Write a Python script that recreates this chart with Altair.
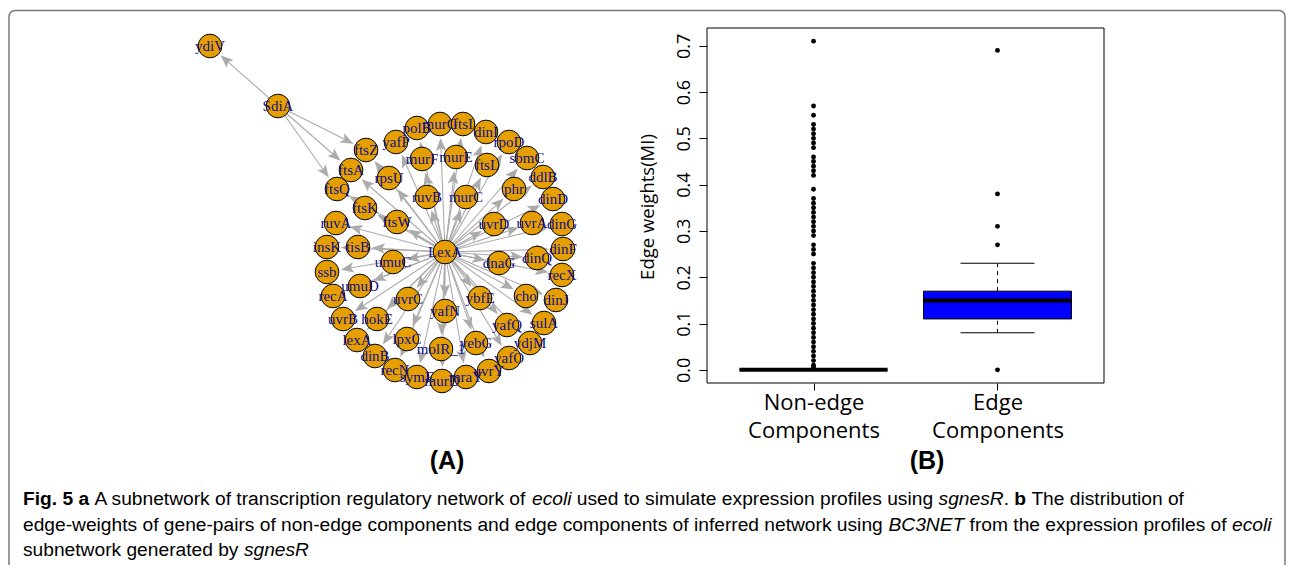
import math
import altair as alt
import pandas as pd

# ---------------- Panel A: network (layout positions) ----------------
node_names = ["LexA", "SdiA", "ydiV",
              "ftsQ", "ftsA", "ftsZ", "yafP", "polB", "murG", "ftsI", "dinI", "rpoD", "sbmC",
              "ddlB", "dinD", "dinG", "dinF", "recX", "dinJ", "sulA", "ydjM", "yafO", "uvrY",
              "mraY", "murD", "symE", "recN", "dinB", "lexA", "uvrB", "recA", "ssb", "insK", "ruvA",
              "rpsU", "murF", "murE", "ftsL", "phr", "ruvB", "murC", "ftsK", "ftsW", "uvrD", "uvrA",
              "tisB", "dinQ", "umuC", "dnaG", "umuD", "cho", "uvrC", "ybfE", "yafN", "hokE", "yafQ",
              "lpxC", "yebG", "molR_1"]
node_x = [445, 278, 210,
          337, 351, 366, 396, 417, 440, 463, 486, 509, 527,
          543, 553, 562, 563, 562, 556, 544, 530, 509, 489,
          466, 442, 417, 395, 375, 357, 343, 333, 327, 327, 336,
          389, 422, 456, 487, 514, 427, 466, 365, 397, 494, 532,
          358, 537, 393, 499, 360, 526, 408, 480, 445, 377, 507,
          407, 476, 441]
node_y = [252, 106, 46,
          189, 170, 150, 142, 128, 124, 124, 132, 142, 158,
          177, 199, 224, 249, 275, 300, 323, 343, 358, 371,
          377, 381, 377, 370, 356, 340, 319, 296, 272, 247, 223,
          178, 159, 157, 165, 189, 197, 197, 208, 222, 224, 223,
          247, 258, 262, 263, 286, 296, 299, 298, 311, 319, 325,
          339, 343, 349]

edge_from = ["SdiA", "SdiA", "SdiA", "SdiA"] + ["LexA"] * (len(node_names) - 3)
edge_to = ["ydiV", "ftsZ", "ftsA", "ftsQ"] + node_names[3:]

# ---------------- Panel B: boxplot of edge weights ----------------
groups = ["Non-edge Components", "Edge Components"]
box_q1 = [0.0, 0.11]
box_median = [0.0, 0.15]
box_q3 = [0.0, 0.17]
whisker_low = [0.0, 0.08]
whisker_high = [0.0, 0.23]
nonedge_outliers = [0.005, 0.01, 0.02, 0.03, 0.04, 0.05, 0.06, 0.07, 0.08, 0.09, 0.10, 0.11, 0.12,
                    0.13, 0.14, 0.15, 0.16, 0.17, 0.18, 0.19, 0.20, 0.21, 0.22, 0.23,
                    0.25, 0.26, 0.27,
                    0.29, 0.30, 0.31, 0.32, 0.33, 0.34, 0.35, 0.36, 0.37,
                    0.39,
                    0.42, 0.43, 0.44, 0.45, 0.46,
                    0.48, 0.49, 0.50, 0.51, 0.52, 0.53,
                    0.55, 0.57, 0.71]
edge_outliers = [0.0, 0.27, 0.31, 0.38, 0.69]
y_ticks = [0.0, 0.1, 0.2, 0.3, 0.4, 0.5, 0.6, 0.7]

# caption: (text, weight, style) runs per line
caption_lines = [
    [("Fig. 5 a", "bold", "normal"),
     (" A subnetwork of transcription regulatory network of ", "normal", "normal"),
     ("ecoli", "normal", "italic"),
     (" used to simulate expression profiles using ", "normal", "normal"),
     ("sgnesR", "normal", "italic"),
     (". ", "normal", "normal"),
     ("b", "bold", "normal"),
     (" The distribution of", "normal", "normal")],
    [("edge-weights of gene-pairs of non-edge components and edge components of inferred network using ",
      "normal", "normal"),
     ("BC3NET", "normal", "italic"),
     (" from the expression profiles of ", "normal", "normal"),
     ("ecoli", "normal", "italic")],
    [("subnetwork generated by ", "normal", "normal"),
     ("sgnesR", "normal", "italic")],
]

# ---------------- derived tables ----------------
pos = {n: (x, y) for n, x, y in zip(node_names, node_x, node_y)}
R = 13.5
HEAD = 6.5
rows = []
for s, t in zip(edge_from, edge_to):
    sx, sy = pos[s]
    tx, ty = pos[t]
    dx, dy = tx - sx, ty - sy
    L = math.hypot(dx, dy)
    ux, uy = dx / L, dy / L
    cx, cy = tx - ux * (R + 0.5 + HEAD), ty - uy * (R + 0.5 + HEAD)
    ang = math.degrees(math.atan2(ux, -uy)) % 360
    rows.append({"x1": sx, "y1": sy, "x2": cx, "y2": cy, "ax": cx, "ay": cy, "ang": ang})
edf = pd.DataFrame(rows)
ndf = pd.DataFrame({"name": node_names, "x": node_x, "y": node_y})

NX = alt.Scale(domain=[8, 1286], range=[0, 1278], nice=False, zero=False)
NY = alt.Scale(domain=[8, 565], range=[0, 557], nice=False, zero=False)
EDGE_COL = "#ABABAB"
ARROW = "M0,-1L0.8,1L0,0.55L-0.8,1Z"

edges = alt.Chart(edf).mark_rule(color=EDGE_COL, strokeWidth=1.1).encode(
    x=alt.X("x1:Q", scale=NX, axis=None), y=alt.Y("y1:Q", scale=NY, axis=None),
    x2="x2:Q", y2="y2:Q")
arrows = alt.Chart(edf).mark_point(shape=ARROW, filled=True, color=EDGE_COL, size=169,
                                   opacity=1, strokeWidth=0).encode(
    x=alt.X("ax:Q", scale=NX, axis=None), y=alt.Y("ay:Q", scale=NY, axis=None),
    angle=alt.Angle("ang:Q", scale=None))
nodes = alt.Chart(ndf).mark_circle(size=560, color="#E69F00", stroke="black", strokeWidth=1,
                                   opacity=1).encode(
    x=alt.X("x:Q", scale=NX, axis=None), y=alt.Y("y:Q", scale=NY, axis=None))
labels = alt.Chart(ndf).mark_text(font="Liberation Serif", fontSize=15, color="#10108A").encode(
    x=alt.X("x:Q", scale=NX, axis=None), y=alt.Y("y:Q", scale=NY, axis=None), text="name:N")
net = alt.layer(edges, arrows, nodes, labels)

stats = pd.DataFrame({"g": groups, "q1": box_q1, "med": box_median, "q3": box_q3,
                      "lo": whisker_low, "hi": whisker_high})
edge_stats = stats[stats["g"] == groups[1]]
pts = pd.DataFrame({"g": [groups[0]] * len(nonedge_outliers) + [groups[1]] * len(edge_outliers),
                    "v": nonedge_outliers + edge_outliers})

BX = alt.Scale(type="point", domain=groups, range=[699, 1096], padding=0.579)
BY = alt.Scale(domain=[-0.0284, 0.7384], range=[375, 20], nice=False, zero=False)
xaxis = alt.Axis(title=None, labelExpr="split(datum.label, ' ')", labelFont="Open Sans",
                 labelFontSize=22, labelLineHeight=28, labelColor="black", tickColor="black",
                 tickSize=7, domain=False, offset=-182, labelPadding=2, grid=False, labelAngle=0)
yaxis = alt.Axis(title=None, values=y_ticks, format=".1f", labelAngle=270, labelAlign="center",
                 labelBaseline="bottom", labelFont="Open Sans", labelFontSize=18,
                 labelColor="black", tickColor="black", tickSize=8, domain=False,
                 offset=-699, labelPadding=6, grid=False)

def bx(f="g:N"):
    return alt.X(f, scale=BX, axis=xaxis)

def by(f):
    return alt.Y(f, scale=BY, axis=yaxis)

frame_b = alt.Chart(pd.DataFrame({"a": [0]})).mark_rect(
    fill="white", fillOpacity=0, stroke="black", strokeWidth=1).encode(
    x=alt.value(699), x2=alt.value(1096), y=alt.value(20), y2=alt.value(375))
whisk_hi = alt.Chart(edge_stats).mark_rule(color="black", strokeWidth=1, strokeDash=[4, 4]).encode(
    x=bx(), y=by("q3:Q"), y2="hi:Q")
whisk_lo = alt.Chart(edge_stats).mark_rule(color="black", strokeWidth=1, strokeDash=[4, 4]).encode(
    x=bx(), y=by("lo:Q"), y2="q1:Q")
cap_hi = alt.Chart(edge_stats).mark_tick(size=74, thickness=1, color="black", opacity=1).encode(
    x=bx(), y=by("hi:Q"))
cap_lo = alt.Chart(edge_stats).mark_tick(size=74, thickness=1, color="black", opacity=1).encode(
    x=bx(), y=by("lo:Q"))
boxes = alt.Chart(stats).mark_bar(size=148, color="#0000FF", stroke="black", strokeWidth=1,
                                  opacity=1).encode(x=bx(), y=by("q1:Q"), y2="q3:Q")
medians = alt.Chart(stats).mark_tick(size=148, thickness=4, color="black", opacity=1).encode(
    x=bx(), y=by("med:Q"))
points = alt.Chart(pts).mark_circle(size=24, color="black", opacity=1).encode(
    x=bx(), y=by("v:Q"))
box = alt.layer(frame_b, whisk_hi, whisk_lo, cap_hi, cap_lo, boxes, medians, points)

dummy = pd.DataFrame({"a": [0]})

def txt(s, x, y, size=18, weight="normal", style="normal", font="Liberation Sans", align="left",
        angle=0):
    kw = dict(text=s, font=font, fontSize=size, fontWeight=weight, fontStyle=style,
              align=align, baseline="middle", color="black")
    if angle:
        kw["angle"] = angle
    return alt.Chart(dummy).mark_text(**kw).encode(x=alt.value(x), y=alt.value(y))

# Liberation Sans has Arial/Helvetica advance widths (per 1000 em) -> chain the styled runs
W_REG = {" ": 278, ".": 278, "-": 333, "(": 333, ")": 333, "_": 556,
         "A": 667, "B": 667, "C": 722, "E": 667, "F": 611, "N": 722, "R": 722, "T": 611,
         "a": 556, "b": 556, "c": 500, "d": 556, "e": 556, "f": 278, "g": 556, "h": 556,
         "i": 222, "j": 222, "k": 500, "l": 222, "m": 833, "n": 556, "o": 556, "p": 556,
         "q": 556, "r": 333, "s": 500, "t": 278, "u": 556, "v": 500, "w": 722, "x": 500,
         "y": 500, "z": 500}
W_REG.update({str(d): 556 for d in range(10)})
W_BOLD = dict(W_REG)
W_BOLD.update({"a": 556, "b": 611, "g": 611, "i": 278, "F": 611})


def run_width(s, weight, size):
    table = W_BOLD if weight == "bold" else W_REG
    return sum(table.get(ch, 556) for ch in s) * size / 1000.0


CAP_SIZE = 19.2
texts = [
    txt("Edge weights(MI)", 640, 199, size=18.5, font="Open Sans", align="center", angle=270),
    txt("(A)", 439, 453, size=25, weight="bold", align="center"),
    txt("(B)", 919, 453, size=25, weight="bold", align="center"),
]
line_y = [491, 517, 542]
for runs, yy in zip(caption_lines, line_y):
    xx = 15.0
    for s, w, st in runs:
        lead = len(s) - len(s.lstrip(" "))
        body = s.strip(" ")
        texts.append(txt(body, xx + run_width(" " * lead, w, CAP_SIZE), yy, size=CAP_SIZE,
                         weight=w, style=st))
        xx += run_width(s, w, CAP_SIZE)

frame = alt.Chart(dummy).mark_rect(fill="white", fillOpacity=0, stroke="#7a7a7a", strokeWidth=1.5,
                                   cornerRadius=6).encode(
    x=alt.value(1), x2=alt.value(1277), y=alt.value(2.5), y2=alt.value(620))

chart = alt.layer(frame, net, box, *texts).resolve_scale(
    x="independent", y="independent").properties(
    width=1278, height=557, autosize=alt.AutoSizeParams(type="none"), padding=0,
    background="white").configure_view(strokeWidth=0)

chart.save("out.html", embed_options={"renderer": "svg", "actions": False})
